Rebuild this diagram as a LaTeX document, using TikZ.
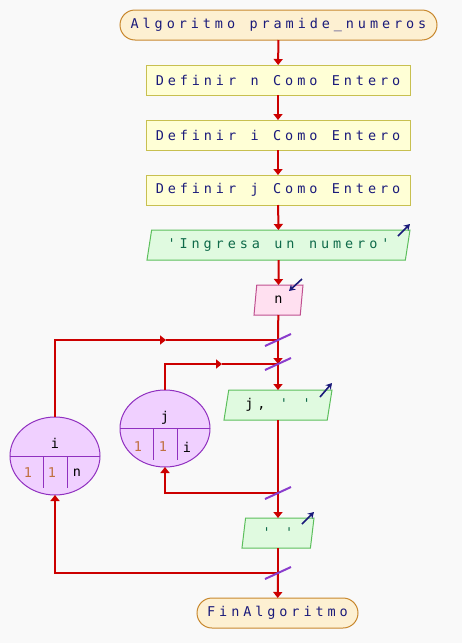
\documentclass[tikz,border=0pt]{standalone}
\usepackage{fontspec}
\newfontfamily\psfont[LetterSpace=29,WordSpace={1.2,0,0}]{DejaVu Sans Mono}
\usetikzlibrary{
	arrows.meta,
	calc,
	shapes.geometric,
	shapes.misc,
	positioning
}
\definecolor{bgcol}{HTML}{F9F9F9}
\definecolor{flowred}{HTML}{CC0000}
\definecolor{slashcol}{HTML}{8A3CCC}
\definecolor{navy}{HTML}{1A1A7A}
\definecolor{strcol}{HTML}{0F6A4A}
\definecolor{numcol}{HTML}{C07040}
\definecolor{termfill}{HTML}{FDF0D2}
\definecolor{termdraw}{HTML}{C8882E}
\definecolor{deffill}{HTML}{FFFFD6}
\definecolor{defdraw}{HTML}{C8C050}
\definecolor{outfill}{HTML}{E0FAE0}
\definecolor{outdraw}{HTML}{5CBF5C}
\definecolor{infill}{HTML}{FFE0F0}
\definecolor{indraw}{HTML}{C05090}
\definecolor{loopfill}{HTML}{F0D0FF}
\definecolor{loopdraw}{HTML}{9030C0}

\begin{document}
\begin{tikzpicture}[
			x=1pt, y=-1pt,
			every node/.style={
				font=\psfont\fontsize{13.5pt}{15pt}\selectfont,
				inner sep=0pt,
				outer sep=0pt
			},
			term/.style={
				rounded rectangle,
				draw=termdraw,
				fill=termfill,
				line width=1pt,
				minimum height=30pt,
				text=navy
			},
			defbox/.style={
				rectangle,
				draw=defdraw,
				fill=deffill,
				line width=1pt,
				minimum width=264pt,
				minimum height=30pt,
				text=navy
			},
			iobox/.style={
				trapezium,
				trapezium left angle=70,
				trapezium right angle=110,
				trapezium stretches body,
				line width=1pt,
				minimum height=30pt
			},
			outbox/.style={
				iobox,
				draw=outdraw,
				fill=outfill,
				text=strcol
			},
			inbox/.style={
				iobox,
				draw=indraw,
				fill=infill,
				text=black
			},
			loopbox/.style={
				ellipse,
				draw=loopdraw,
				fill=loopfill,
				line width=1pt,
				minimum width=90pt
			},
			loopline/.style={
				draw=loopdraw,
				line width=1pt
			},
			flow/.style={
				draw=flowred,
				line width=2pt
			},
			arr/.style={
				flow,
				-{Triangle[length=6pt,width=9pt]}
			},
			ioarr/.style={
				draw=navy,
				line width=1.6pt,
				-{Stealth[length=6pt,width=7pt]}
			},
			slash/.style={
				draw=slashcol,
				line width=2pt
			}
			]
			
			\fill[bgcol] (0,0) rectangle (462,643);
			\useasboundingbox (0,0) rectangle (462,643);
			
			% main column
			\node[term, minimum width=317pt] (start) at (278.5,25) {Algoritmo pramide\_numeros};
			\node[defbox] (defn) at (278,80) {Definir n Como Entero};
			\node[defbox] (defi) at (278,135) {Definir i Como Entero};
			\node[defbox] (defj) at (278,190) {Definir j Como Entero};
			\node[outbox, minimum width=263pt] (ask) at (278.5,245) {'Ingresa un numero'};
			\node[inbox, minimum width=49pt] (readn) at (278.5,300) {n};
			\node[outbox, minimum width=108pt] (outj) at (278,405)
				{\textcolor{black}{j,} ' '};
			\node[outbox, minimum width=72pt] (outsp) at (278,533) {' '};
			\node[term, minimum width=161pt] (fin) at (277.5,613) {FinAlgoritmo};
			
			% loops
			\node[loopbox, minimum height=78pt] (loopi) at (55,456) {};
			\node[loopbox, minimum height=77pt] (loopj) at (165,428.5) {};
			
			\draw[loopline] (loopi.west) -- (loopi.east);
			\draw[loopline] (43.7,456) -- (43.7,488);
			\draw[loopline] (67.7,456) -- (67.7,488);
			\node (ivar) at (55,443) {i};
			\node[text=numcol] (ifrom) at (28,473) {1};
			\node[text=numcol] (istep) at (52,473) {1};
			\node (ito) at (77,473) {n};
			
			\draw[loopline] (loopj.west) -- (loopj.east);
			\draw[loopline] (153.7,428.5) -- (153.7,460);
			\draw[loopline] (177.7,428.5) -- (177.7,460);
			\node (jvar) at (165,418) {j};
			\node[text=numcol] (jfrom) at (138,447) {1};
			\node[text=numcol] (jstep) at (163,447) {1};
			\node (jto) at (187,447) {i};
			
			% junctions
			\coordinate (ji) at (278,340);
			\coordinate (jj) at (278,364);
			\coordinate (bj) at (278,493);
			\coordinate (bi) at (278,573);
			\coordinate (midi) at (166,340);
			\coordinate (midj) at (222,364);
			
			\draw[arr] (start) -- (defn);
			\draw[arr] (defn) -- (defi);
			\draw[arr] (defi) -- (defj);
			\draw[arr] (defj) -- (ask);
			\draw[arr] (ask) -- (readn);
			\draw[flow] (readn) -- (ji);
			\draw[arr] (ji) -- (jj);
			\draw[arr] (jj) -- (outj);
			\draw[arr] (loopi.north) |- (midi);
			\draw[flow] (midi) -- (ji);
			\draw[arr] (loopj.north) |- (midj);
			\draw[flow] (midj) -- (jj);
			\draw[flow] (outj) -- (bj);
			\draw[arr] (bj) -- (outsp);
			\draw[arr] (bj) -| (loopj.south);
			\draw[flow] (outsp) -- (bi);
			\draw[arr] (bi) -- (fin);
			\draw[arr] (bi) -| (loopi.south);
			
			\foreach \j in {ji,jj,bj,bi}
				\draw[slash] ([shift={(-13,6)}]\j) -- ([shift={(13,-6)}]\j);
			
			% io marks
			\draw[ioarr] ([shift={(-12,6)}]ask.top right corner) -- ([shift={(0,-6)}]ask.top right corner);
			\draw[ioarr] ([shift={(-12,7)}]outj.top right corner) -- ([shift={(0,-7)}]outj.top right corner);
			\draw[ioarr] ([shift={(-12,6)}]outsp.top right corner) -- ([shift={(0,-6)}]outsp.top right corner);
			\draw[ioarr] ([shift={(-1,-6)}]readn.top right corner) -- ([shift={(-14,6)}]readn.top right corner);
			
		\end{tikzpicture}
\end{document}
